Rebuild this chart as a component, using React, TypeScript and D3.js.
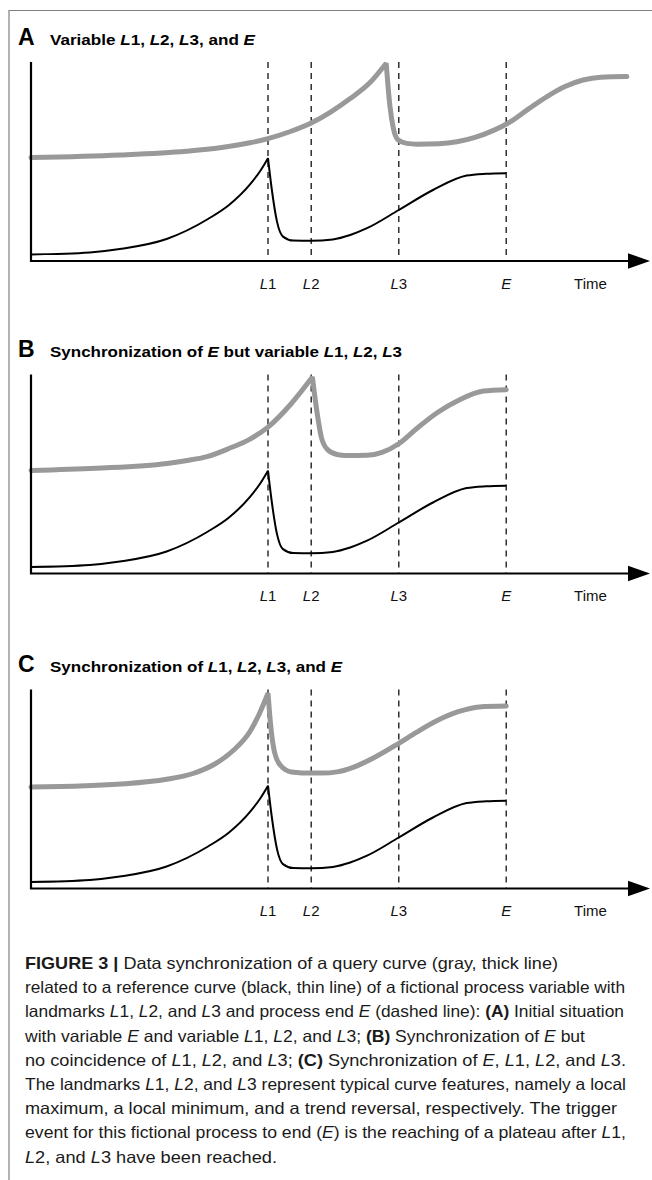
import React, { useEffect, useRef } from 'react';
import * as d3 from 'd3';

type Pt = [number, number];

// panel headings; *x* = italic, **x** = bold
const panelLetters = ['A', 'B', 'C'];
const panelTitles = [
  'Variable *L*1, *L*2, *L*3, and *E*',
  'Synchronization of *E* but variable *L*1, *L*2, *L*3',
  'Synchronization of *L*1, *L*2, *L*3, and *E*',
];

// landmarks on the time axis
const landmarkNames = ['*L*1', '*L*2', '*L*3', '*E*'];
const landmarkTimes = [39.5, 46.7, 61.3, 79.2];

// reference curve (black, thin) - same in every panel
const referenceCurve: Pt[] = [
  [0, 3.3], [9.8, 4.3], [14.8, 6], [22.6, 11], [29.5, 21], [33, 28], [36.5, 38.3], [38.2, 45], [39.5, 51.4],
  [40.1, 36.5], [41, 19.7], [42, 12.2], [43.7, 10.2], [46.7, 10.1], [50.3, 10.8], [53.2, 13], [56, 16.4],
  [61.3, 25.5], [67, 35.5], [72.6, 42.7], [75.8, 43.6], [79.2, 43.9],
];

// query curves (gray, thick)
const queryCurveA: Pt[] = [
  [0, 51.7], [14.8, 53], [25.9, 54.9], [31.5, 56.6], [36.5, 59.1], [39.5, 61.2], [43, 64.5], [46.7, 69],
  [50, 74.6], [53.2, 81.2], [56.5, 89.2], [59.2, 98.9],
  [59.8, 78], [60.4, 66.3], [61.2, 60.5], [62.6, 58.8], [64.3, 58.4], [68, 58.6], [71, 59.6], [74, 61.8],
  [77, 65.2], [80, 69.8], [83, 76.2], [86, 82.2], [89, 87.2], [92, 90.5], [95, 91.9], [99.3, 92.2],
];
const queryCurveB: Pt[] = [
  [0, 51.5], [10.8, 52.6], [22.7, 55], [26, 56.5], [29.5, 58.6], [33, 62.5], [36.5, 67.2], [39.5, 73.2],
  [43.4, 85], [46.9, 98.2],
  [47.7, 80], [48.4, 68], [49.4, 62], [51, 59.5], [52.5, 59], [56, 59.1], [58.5, 60.6], [61.3, 64.9],
  [64.3, 72.5], [67.75, 80.5], [71.2, 86.5], [75.4, 91.2], [79.2, 91.9],
];
const queryCurveC: Pt[] = [
  [0, 50.7], [15.7, 52.4], [22.6, 54.6], [27, 57.5], [30.5, 62], [33.7, 69], [36.5, 78.5], [38, 87], [39.5, 97.6],
  [40, 80], [40.6, 68], [41.6, 61.5], [43.4, 58.3], [46.9, 57.7], [48.5, 57.7], [51, 58.3], [53.8, 60.7],
  [57.3, 65.6], [61.3, 72.6], [64.3, 78.2], [67.7, 84], [71.2, 88.4], [74.7, 90.8], [79.2, 91.2],
];
const queryCurves = [queryCurveA, queryCurveB, queryCurveC];

const captionLines = [
  '**FIGURE 3 |** Data synchronization of a query curve (gray, thick line)',
  'related to a reference curve (black, thin line) of a fictional process variable with',
  'landmarks *L*1, *L*2, and *L*3 and process end *E* (dashed line): **(A)** Initial situation',
  'with variable *E* and variable *L*1, *L*2, and *L*3; **(B)** Synchronization of *E* but',
  'no coincidence of *L*1, *L*2, and *L*3; **(C)** Synchronization of *E*, *L*1, *L*2, and *L*3.',
  'The landmarks *L*1, *L*2, and *L*3 represent typical curve features, namely a local',
  'maximum, a local minimum, and a trend reversal, respectively. The trigger',
  'event for this fictional process to end (*E*) is the reaching of a plateau after *L*1,',
  '*L*2, and *L*3 have been reached.',
];

// layout
const W = 652;
const H = 1180;
const FONT = 'Liberation Sans, Arial, Helvetica, sans-serif';
const axisYs = [261, 573.5, 888.5];
const titleWidths = [205, 352, 292];
const captionWidths = [533, 600, 599, 560, 601, 601, 592, 601, 252];

function addRich(text: d3.Selection<SVGTextElement, unknown, null, undefined>, src: string) {
  src.split(/(\*\*[^*]+\*\*|\*[^*]+\*)/).filter(s => s.length).forEach(part => {
    const t = text.append('tspan');
    if (part.startsWith('**')) t.attr('font-weight', 'bold').text(part.slice(2, -2));
    else if (part.startsWith('*')) t.attr('font-style', 'italic').text(part.slice(1, -1));
    else t.text(part);
  });
}

const App: React.FC = () => {
  const svgRef = useRef<SVGSVGElement>(null);

  useEffect(() => {
    if (!svgRef.current) return;
    const svg = d3.select(svgRef.current);
    svg.selectAll('*').remove();

    svg.append('rect').attr('width', W).attr('height', H).attr('fill', '#fff');

    // frame
    svg.append('path')
      .attr('d', `M${W},10.5H9V${H}`)
      .attr('fill', 'none')
      .attr('stroke', '#808080')
      .attr('stroke-width', 1.2);

    const x = d3.scaleLinear().domain([0, 100]).range([31, 631]);

    panelLetters.forEach((letter, i) => {
      const axisY = axisYs[i];
      const y = d3.scaleLinear().domain([0, 100]).range([axisY, axisY - 200]);
      const g = svg.append('g');

      // titles
      g.append('text')
        .attr('x', 18).attr('y', axisY - 216.5)
        .attr('font-family', FONT).attr('font-weight', 'bold').attr('font-size', 23)
        .text(letter);
      const title = g.append('text')
        .attr('x', 50).attr('y', axisY - 216.5)
        .attr('font-family', FONT).attr('font-weight', 'bold').attr('font-size', 15.5)
        .attr('textLength', titleWidths[i]).attr('lengthAdjust', 'spacingAndGlyphs');
      addRich(title, panelTitles[i]);

      // dashed landmark lines
      g.selectAll('line.lm')
        .data(landmarkTimes)
        .enter()
        .append('line')
        .attr('x1', d => x(d)).attr('x2', d => x(d))
        .attr('y1', y(99.5)).attr('y2', axisY)
        .attr('stroke', '#111')
        .attr('stroke-width', 1.3)
        .attr('stroke-dasharray', '6,5');

      const line = d3.line<Pt>()
        .x(d => x(d[0]))
        .y(d => y(d[1]))
        .curve(d3.curveMonotoneX);

      // split at the peak so it stays sharp
      const curvePath = (pts: Pt[]) => {
        const k = d3.maxIndex(pts, d => d[1]);
        const a = line(pts.slice(0, k + 1)) || '';
        const b = (line(pts.slice(k)) || '').replace(/^M/, 'L');
        return a + b;
      };

      g.append('path')
        .attr('d', curvePath(queryCurves[i]))
        .attr('fill', 'none')
        .attr('stroke', '#999999')
        .attr('stroke-width', 5)
        .attr('stroke-linecap', 'round')
        .attr('stroke-miterlimit', 2);

      g.append('path')
        .attr('d', curvePath(referenceCurve))
        .attr('fill', 'none')
        .attr('stroke', '#000')
        .attr('stroke-width', 2)
        .attr('stroke-miterlimit', 2);

      // axes
      g.append('path')
        .attr('d', `M${x(0)},${y(99.5)}V${axisY}H630`)
        .attr('fill', 'none')
        .attr('stroke', '#000')
        .attr('stroke-width', 2.2);
      g.append('path')
        .attr('d', `M628,${axisY - 7.8}L650,${axisY}L628,${axisY + 7.8}Z`)
        .attr('fill', '#000');

      // labels
      landmarkTimes.forEach((t, j) => {
        const lab = g.append('text')
          .attr('x', x(t)).attr('y', axisY + 27.5)
          .attr('text-anchor', 'middle')
          .attr('font-family', FONT).attr('font-size', 15)
          .attr('fill', '#111');
        addRich(lab, landmarkNames[j]);
      });
      g.append('text')
        .attr('x', 590.5).attr('y', axisY + 27.5)
        .attr('text-anchor', 'middle')
        .attr('font-family', FONT).attr('font-size', 15)
        .attr('fill', '#111')
        .text('Time');
    });

    // caption
    captionLines.forEach((ln, i) => {
      const t = svg.append('text')
        .attr('x', 25).attr('y', 969 + 24.2 * i)
        .attr('font-family', FONT).attr('font-size', 16.5)
        .attr('fill', '#1a1a1a')
        .attr('textLength', captionWidths[i]).attr('lengthAdjust', 'spacingAndGlyphs');
      addRich(t, ln);
    });
  }, []);

  return (
    <svg ref={svgRef} width={W} height={H} style={{ position: 'absolute', left: 0, top: 0 }} />
  );
};

export default App;
